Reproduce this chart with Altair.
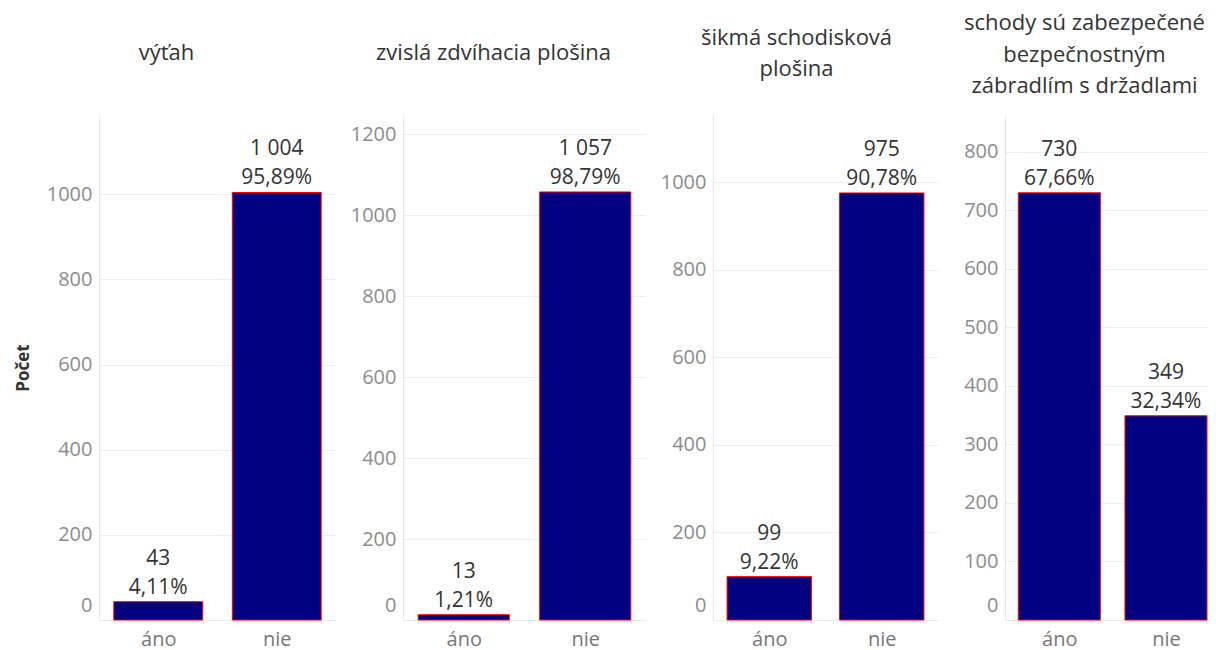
import altair as alt
import pandas as pd

FONT = "Open Sans"

categories = ["áno", "nie"]
panel_titles = [
    ["výťah"],
    ["zvislá zdvíhacia plošina"],
    ["šikmá schodisková", "plošina"],
    ["schody sú zabezpečené", "bezpečnostným", "zábradlím s držadlami"],
]
counts = [
    [43, 1004],
    [13, 1057],
    [99, 975],
    [730, 349],
]
percents = [
    [4.11, 95.89],
    [1.21, 98.79],
    [9.22, 90.78],
    [67.66, 32.34],
]
y_max = [1186, 1247, 1153, 863]
y_ticks = [
    [0, 200, 400, 600, 800, 1000],
    [0, 200, 400, 600, 800, 1000, 1200],
    [0, 200, 400, 600, 800, 1000],
    [0, 100, 200, 300, 400, 500, 600, 700, 800],
]

# layout (styles only)
widths = [237, 243, 225, 203]
title_offsets = [28, 28, 12, -5]
title_dx = [-51, -31, -29, -22]
x_pad = [
    dict(paddingInner=0.25, paddingOuter=0.125),
    dict(paddingInner=0.25, paddingOuter=0.125),
    dict(paddingInner=0.25, paddingOuter=0.125),
    dict(paddingInner=0.231, paddingOuter=0.067, align=0.93),
]


def fmt_count(c):
    return f"{c:,}".replace(",", " ")


def fmt_pct(p):
    return f"{p:.2f}".replace(".", ",") + "%"


panels = []
for i in range(4):
    df = pd.DataFrame({
        "kategoria": categories,
        "pocet": counts[i],
        "label": [f"{fmt_count(c)}\n{fmt_pct(p)}" for c, p in zip(counts[i], percents[i])],
    })
    y_axis_kwargs = dict(
        values=y_ticks[i],
        format="d",
        grid=True,
        gridColor="#eeeeee",
        domain=True,
        domainColor="#e8e8e8",
        ticks=False,
        labelColor="#8c8c8c",
        labelFont=FONT,
        labelFontSize=20,
        labelPadding=7,
        labelFlush=True,
        labelFlushOffset=-5,
    )
    if i == 0:
        y_axis_kwargs.update(
            title="Počet",
            titleFont=FONT,
            titleFontSize=17,
            titleFontWeight="bold",
            titleColor="#333333",
            titlePadding=14,
        )
        y_title = "Počet"
    else:
        y_title = None
    base = alt.Chart(df).encode(
        x=alt.X(
            "kategoria:N",
            sort=categories,
            scale=alt.Scale(**x_pad[i]),
            axis=alt.Axis(
                title=None,
                labelAngle=0,
                labelColor="#777777",
                labelFont=FONT,
                labelFontSize=20,
                labelPadding=5,
                domainColor="#e8e8e8",
                tickColor="#e3e3e3",
                tickSize=4,
                tickBand="extent",
                grid=False,
            ),
        ),
        y=alt.Y(
            "pocet:Q",
            scale=alt.Scale(domain=[0, y_max[i]], nice=False, zero=True),
            axis=alt.Axis(**y_axis_kwargs),
            title=y_title,
        ),
    )
    bars = base.mark_bar(color="#000080", stroke="#ff0000", strokeWidth=1)
    labels = base.mark_text(
        baseline="bottom",
        dy=-33,
        lineBreak="\n",
        lineHeight=29,
        font=FONT,
        fontSize=21,
        color="#333333",
    ).encode(text="label:N")
    panel = alt.layer(bars, labels).properties(
        width=widths[i],
        height=505,
        title=alt.TitleParams(
            text=panel_titles[i],
            font=FONT,
            fontSize=22,
            fontWeight="normal",
            color="#333333",
            lineHeight=31.5,
            baseline="bottom",
            anchor="middle",
            offset=title_offsets[i],
            dx=title_dx[i],
        ),
    )
    panels.append(panel)

chart = (
    alt.hconcat(*panels, spacing=67, bounds="flush")
    .resolve_scale(x="independent", y="independent")
    .properties(padding={"left": 6, "top": 4, "right": 0, "bottom": 0})
    .configure_view(strokeWidth=0)
)

chart.save("out.html", embed_options={"renderer": "svg", "actions": False})
